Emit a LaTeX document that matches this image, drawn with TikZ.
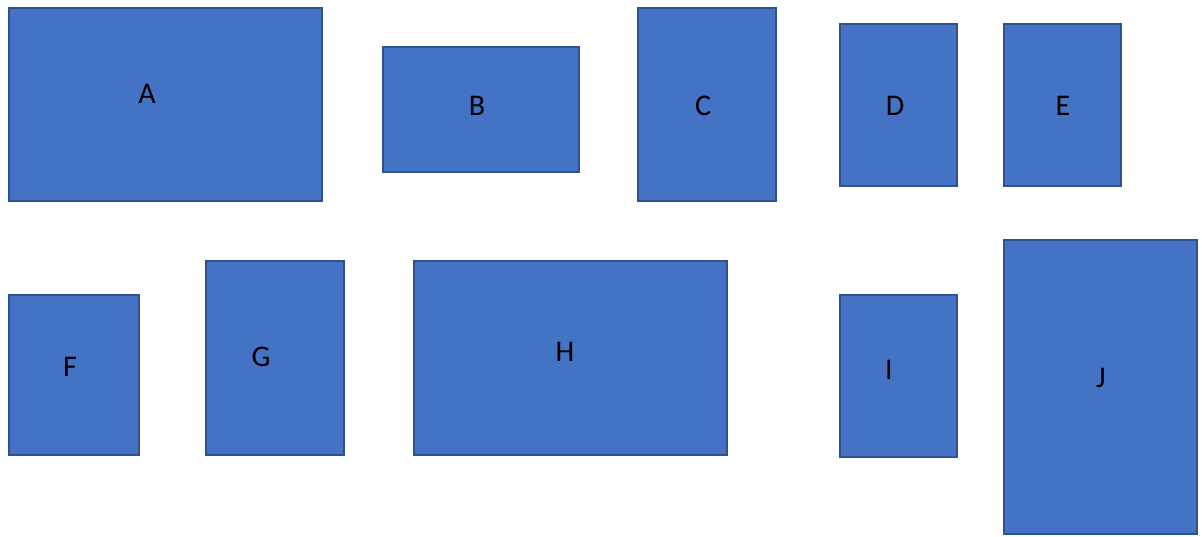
\documentclass[tikz,border=0pt]{standalone}
\usepackage{fontspec}
\setmainfont{Carlito}
\definecolor{boxfill}{HTML}{4472C4}
\definecolor{boxline}{HTML}{2F528F}
\begin{document}
\begin{tikzpicture}[x=1pt,y=-1pt,
  blockbox/.style={draw=boxline,fill=boxfill,line width=2pt},
  blocklabel/.style={font=\fontsize{30}{36}\selectfont,text=black,inner sep=0pt,anchor=center}]
\useasboundingbox (0,0) rectangle (1202,536);
% top row
\draw[blockbox] (9,8) rectangle (322,201) coordinate (A);
\draw[blockbox] (383,47) rectangle (579,172) coordinate (B);
\draw[blockbox] (638,8) rectangle (776,201) coordinate (C);
\draw[blockbox] (840,24) rectangle (957,186) coordinate (D);
\draw[blockbox] (1004,24) rectangle (1121,186) coordinate (E);
% bottom row
\draw[blockbox] (9,295) rectangle (139,455) coordinate (F);
\draw[blockbox] (206,261) rectangle (344,455) coordinate (G);
\draw[blockbox] (414,261) rectangle (727,455) coordinate (H);
\draw[blockbox] (840,295) rectangle (957,457) coordinate (I);
\draw[blockbox] (1004,240) rectangle (1197,534) coordinate (J);
% labels
\node[blocklabel] (lA) at (147,94) {A};
\node[blocklabel] (lB) at (477,106) {B};
\node[blocklabel] (lC) at (703,106) {C};
\node[blocklabel] (lD) at (895,106) {D};
\node[blocklabel] (lE) at (1063,106) {E};
\node[blocklabel] (lF) at (70,367) {F};
\node[blocklabel] (lG) at (261,357) {G};
\node[blocklabel] (lH) at (565,352) {H};
\node[blocklabel] (lI) at (889,370) {I};
\node[blocklabel] (lJ) at (1101,378) {J};
\end{tikzpicture}
\end{document}
